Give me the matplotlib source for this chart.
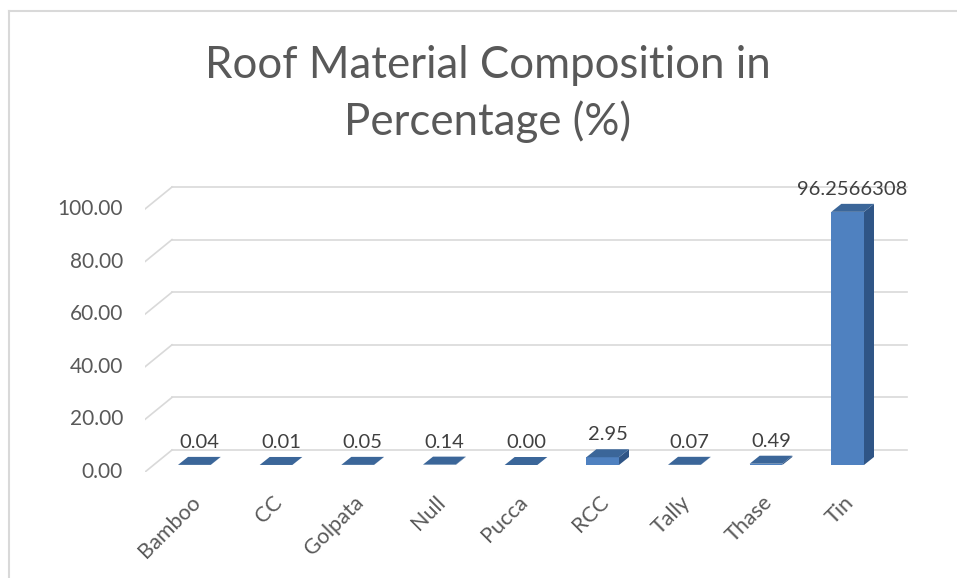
import matplotlib
matplotlib.use("Agg")
import matplotlib.pyplot as plt
from matplotlib.patches import Polygon
from matplotlib.lines import Line2D
from matplotlib.transforms import offset_copy

categories = ["Bamboo", "CC", "Golpata", "Null", "Pucca", "RCC", "Tally", "Thase", "Tin"]
values = [0.04, 0.01, 0.05, 0.14, 0.00, 2.95, 0.07, 0.49, 96.2566308]
value_labels = ["0.04", "0.01", "0.05", "0.14", "0.00", "2.95", "0.07", "0.49", "96.2566308"]
y_ticks = [0, 20, 40, 60, 80, 100]
title_lines = ["Roof Material Composition in", "Percentage (%)"]

W, H, DPI = 957, 578, 100
plt.rcParams["font.family"] = ["Lato", "DejaVu Sans"]

fig = plt.figure(figsize=(W / DPI, H / DPI), dpi=DPI)
# front floor plane of the 3d box, in pixels
left, right, bottom = 145, 880, 106
ymax = 120
px_per_unit = 2.63
top = bottom + ymax * px_per_unit
ax = fig.add_axes([left / W, bottom / H, (right - left) / W, (top - bottom) / H])
ax.set_xlim(-0.5, len(categories) - 0.5)
ax.set_ylim(0, ymax)
ax.axis("off")

# depth offsets (pixels)
wall_dx, wall_dy = 27, 22
bar_fx, bar_fy = 8.5, 7
bar_dx, bar_dy = 10, 8
bar_w = 0.4

grid_col = "#d9d9d9"
back = offset_copy(ax.transData, fig=fig, x=wall_dx, y=wall_dy, units="dots")
for t in y_ticks:
    ax.plot([-0.5, len(categories) - 0.5], [t, t], color=grid_col, lw=1.2,
            transform=back, clip_on=False, zorder=1)
    # slanted side line from front plane to back wall
    p0 = ax.transData.transform((-0.5, t))
    ax.add_line(Line2D([p0[0], p0[0] + wall_dx], [p0[1], p0[1] + wall_dy],
                       color=grid_col, lw=1.2, transform=None, zorder=1))
    ax.text(-0.5, t, f"{t:.2f}", transform=offset_copy(ax.transData, fig=fig, x=-22, y=0, units="dots"),
            ha="right", va="center", fontsize=15, color="#595959")

front_col = "#4f81c0"
side_col = "#2f5586"
top_col = "#3b6699"
ft = offset_copy(ax.transData, fig=fig, x=bar_fx, y=bar_fy, units="dots")
for i, (v, lab) in enumerate(zip(values, value_labels)):
    x0, x1 = i - bar_w / 2, i + bar_w / 2
    a = ft.transform([(x0, 0), (x1, 0), (x1, v), (x0, v)])
    fx1, fy1 = a[1]
    tx1, ty1 = a[2]
    tx0, ty0 = a[3]
    side = [(fx1, fy1), (fx1 + bar_dx, fy1 + bar_dy), (tx1 + bar_dx, ty1 + bar_dy), (tx1, ty1)]
    topf = [(tx0, ty0), (tx1, ty1), (tx1 + bar_dx, ty1 + bar_dy), (tx0 + bar_dx, ty0 + bar_dy)]
    fig.patches.append(Polygon(side, closed=True, fc=side_col, ec="none", transform=None, zorder=3))
    fig.patches.append(Polygon(a, closed=True, fc=front_col, ec="none", transform=None, zorder=3))
    fig.patches.append(Polygon(topf, closed=True, fc=top_col, ec="none", transform=None, zorder=3))
    # data label above bar
    lt = offset_copy(ax.transData, fig=fig, x=bar_fx + 5, y=bar_fy + bar_dy + 6, units="dots")
    ax.text(i, v, lab, transform=lt, ha="center", va="bottom", fontsize=14.5, color="#404040", zorder=5)
    # category label
    ct = offset_copy(ax.transData, fig=fig, x=bar_fx - 4, y=-20, units="dots")
    ax.text(i, 0, categories[i], transform=ct, ha="right", va="top", rotation=45,
            rotation_mode="anchor", fontsize=15.5, color="#595959")

# title, two lines placed on their baselines
for line, base in zip(title_lines, [78, 135]):
    fig.text(488 / W, 1 - base / H, line, ha="center", va="baseline",
             fontsize=31.5, color="#595959")

# chart border (cropped on the right and bottom)
fig.add_artist(Line2D([9 / W, 9 / W], [0, 1 - 11 / H], color="#d9d9d9", lw=1.5, transform=fig.transFigure))
fig.add_artist(Line2D([9 / W, 1], [1 - 11 / H, 1 - 11 / H], color="#d9d9d9", lw=1.5, transform=fig.transFigure))

fig.savefig("out.png", dpi=DPI)
